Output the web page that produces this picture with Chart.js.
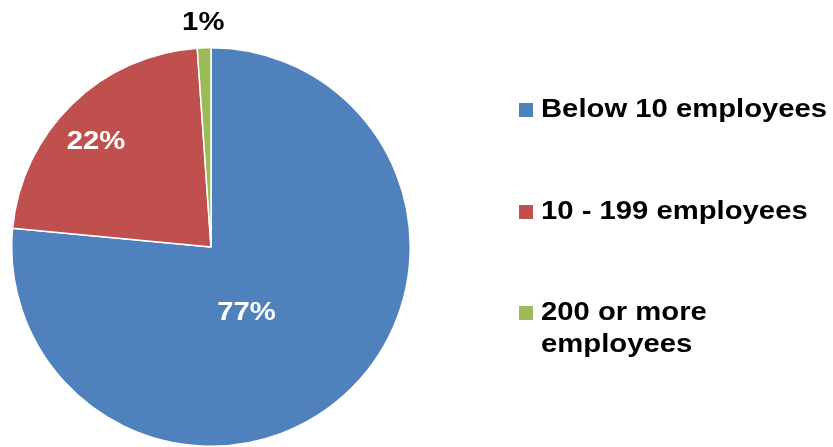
<!DOCTYPE html>
<html>
<head>
<meta charset="utf-8">
<script src="https://cdn.jsdelivr.net/npm/chart.js@4"></script>
<style>
  html, body { margin: 0; padding: 0; background: #fff; }
  #wrap { width: 833px; height: 447px; }
</style>
</head>
<body>
<div id="wrap"><canvas id="pie"></canvas></div>
<script>
const categories = ['Below 10 employees', '10 - 199 employees', '200 or more employees'];
const legendLines = [['Below 10 employees'], ['10 - 199 employees'], ['200 or more', 'employees']];
const shares = [76.5, 22.4, 1.1];
const colors = ['#4F81BD', '#C0504D', '#9BBB59'];

// text in the original is a little wide, so stretch it horizontally
const STRETCH = 1.17;

function wideText(ctx, text, x, y, align) {
  ctx.save();
  ctx.translate(x, y);
  ctx.scale(STRETCH, 1);
  ctx.textAlign = align;
  ctx.fillText(text, 0, 0);
  ctx.restore();
}

// label placement per slice: fraction of radius and angle shift (deg); null = outside
const labelRadius = [0.375, 0.78, null];
const labelTurn = [14, -3.5, 0];

const sliceLabels = {
  id: 'sliceLabels',
  afterDatasetsDraw(chart) {
    const ctx = chart.ctx;
    const meta = chart.getDatasetMeta(0);
    ctx.save();
    ctx.font = 'bold 25px "Liberation Sans", Arial, sans-serif';
    ctx.textBaseline = 'middle';
    meta.data.forEach((arc, i) => {
      const mid = (arc.startAngle + arc.endAngle) / 2 + labelTurn[i] * Math.PI / 180;
      const outside = labelRadius[i] === null;
      const r = outside ? arc.outerRadius + 25 : arc.outerRadius * labelRadius[i];
      const x = arc.x + Math.cos(mid) * r;
      const y = arc.y + Math.sin(mid) * r;
      ctx.fillStyle = outside ? '#000' : '#fff';
      wideText(ctx, Math.round(shares[i]) + '%', x, y, 'center');
    });
    ctx.restore();
  }
};

// legend on the right, with a wrapped last entry
const sideLegend = {
  id: 'sideLegend',
  afterDraw(chart) {
    const ctx = chart.ctx;
    const rows = [110, 212, 313];
    ctx.save();
    ctx.font = 'bold 25px "Liberation Sans", Arial, sans-serif';
    ctx.textBaseline = 'middle';
    legendLines.forEach((lines, i) => {
      ctx.fillStyle = colors[i];
      ctx.fillRect(519, rows[i] - 7, 14, 14);
      ctx.fillStyle = '#000';
      lines.forEach((t, j) => wideText(ctx, t, 541, rows[i] + j * 32, 'left'));
    });
    ctx.restore();
  }
};

new Chart(document.getElementById('pie'), {
  type: 'pie',
  data: {
    labels: categories,
    datasets: [{
      data: shares,
      backgroundColor: colors,
      borderColor: '#fff',
      borderWidth: 1.5
    }]
  },
  options: {
    responsive: true,
    maintainAspectRatio: false,
    animation: false,
    layout: { padding: { left: 11, right: 422, top: 47, bottom: 0 } },
    plugins: {
      legend: { display: false },
      tooltip: { enabled: false }
    }
  },
  plugins: [sliceLabels, sideLegend]
});
</script>
</body>
</html>
